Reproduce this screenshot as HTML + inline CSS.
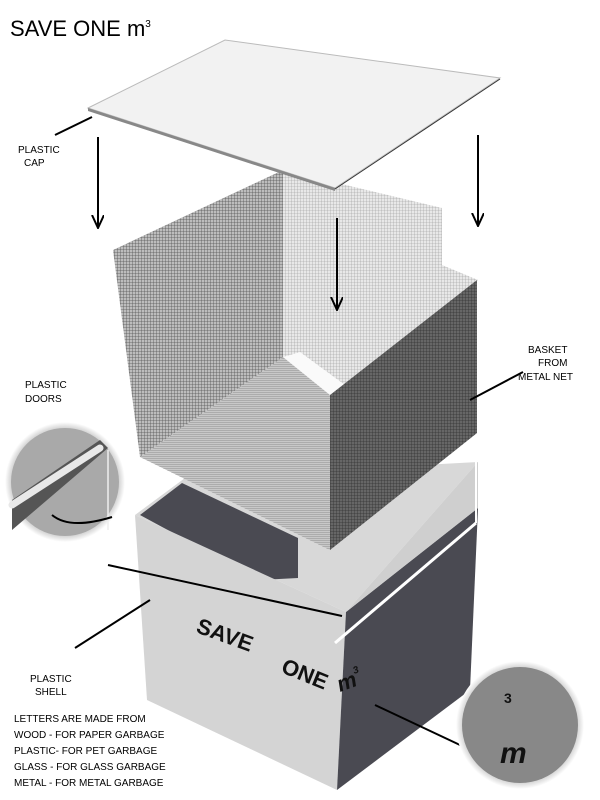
<!DOCTYPE html>
<html><head><style>body{margin:0;background:#fff}svg{display:block}text{font-family:"Liberation Sans",sans-serif}</style></head><body>
<svg width="600" height="800" viewBox="0 0 600 800" xmlns="http://www.w3.org/2000/svg">
<defs>
<pattern id="m1" width="3" height="3" patternUnits="userSpaceOnUse"><rect width="3" height="3" fill="#bdbdbd"/><path d="M0 0H3M0 0V3" stroke="#555" stroke-width="0.8"/></pattern>
<pattern id="m2" width="3" height="3" patternUnits="userSpaceOnUse"><rect width="3" height="3" fill="#e8e8e8"/><path d="M0 0H3M0 0V3" stroke="#999" stroke-width="0.6"/></pattern>
<pattern id="m3" width="3" height="3" patternUnits="userSpaceOnUse"><rect width="3" height="3" fill="#666"/><path d="M0 0H3M0 0V3" stroke="#333" stroke-width="0.8"/></pattern>
<pattern id="m4" width="3" height="2" patternUnits="userSpaceOnUse"><rect width="3" height="2" fill="#c8c8c8"/><path d="M0 0H3" stroke="#777" stroke-width="0.7"/></pattern>
<radialGradient id="lens" cx="0.5" cy="0.5" r="0.5"><stop offset="0.8" stop-color="#aaa"/><stop offset="1" stop-color="#fff"/></radialGradient>
<marker id="ah" markerWidth="14" markerHeight="14" refX="13" refY="6" orient="auto" markerUnits="userSpaceOnUse"><path d="M0 0L13 6L0 12" fill="none" stroke="#000" stroke-width="2"/></marker>
</defs>
<text x="10" y="36" font-size="22">SAVE ONE m<tspan font-size="10" dy="-9">3</tspan></text>
<text x="18" y="153" font-size="10">PLASTIC</text><text x="24" y="166" font-size="10">CAP</text>
<line x1="55" y1="135" x2="92" y2="117" stroke="#000" stroke-width="2"/>
<line x1="98" y1="137" x2="98" y2="228" stroke="#000" stroke-width="2" marker-end="url(#ah)"/>
<line x1="478" y1="135" x2="478" y2="226" stroke="#000" stroke-width="2" marker-end="url(#ah)"/>
<!-- box -->
<polygon points="135,515 185,478 478,462 346,612" fill="#d8d8d8"/>
<polygon points="140,515 182,483 298,538 298,578 260,580" fill="#4a4a52"/>
<polygon points="135,515 346,612 337,790 147,700" fill="#d4d4d4"/>
<polygon points="346,612 478,508 470,690 337,790" fill="#4a4a52"/>
<polygon points="346,612 478,462 478,508" fill="#cfcfcf"/>
<line x1="335" y1="643" x2="476" y2="523" stroke="#fff" stroke-width="3"/>
<line x1="476" y1="462" x2="476" y2="523" stroke="#fff" stroke-width="2"/>
<!-- mesh cube -->
<polygon points="283,170 442,208 442,265 478,280 330,395 283,357" fill="url(#m2)"/>
<polygon points="283,357 330,395 345,385 300,352" fill="#fafafa"/>
<polygon points="140,457 283,357 330,395 330,550" fill="url(#m4)"/>
<polygon points="113,250 283,170 283,357 140,457" fill="url(#m1)"/>
<polygon points="330,395 477,280 477,433 330,550" fill="url(#m3)"/>
<!-- cap -->
<polygon points="88,108 225,40 500,78 335,188" fill="#f2f2f2" stroke="#bbb" stroke-width="1"/>
<polygon points="88,108 335,188 335,191 88,111" fill="#888"/>
<line x1="335" y1="189" x2="500" y2="79" stroke="#333" stroke-width="1"/>
<line x1="337" y1="218" x2="337" y2="310" stroke="#000" stroke-width="2" marker-end="url(#ah)"/>
<text x="528" y="353" font-size="10">BASKET</text><text x="538" y="366" font-size="10">FROM</text><text x="518" y="380" font-size="10">METAL NET</text>
<line x1="470" y1="400" x2="523" y2="372" stroke="#000" stroke-width="2"/>
<!-- left lens -->
<text x="25" y="388" font-size="10">PLASTIC</text><text x="25" y="402" font-size="10">DOORS</text>
<circle cx="65" cy="482" r="60" fill="url(#lens)"/>
<circle cx="65" cy="482" r="54" fill="#a9a9a9"/>
<polygon points="12,500 100,440 108,448 12,530" fill="#555"/>
<line x1="12" y1="505" x2="100" y2="448" stroke="#e8e8e8" stroke-width="7" stroke-linecap="round"/>
<line x1="108" y1="450" x2="108" y2="530" stroke="#eee" stroke-width="1.5"/>
<path d="M52 515 Q70 530 112 517" fill="none" stroke="#000" stroke-width="2"/>
<line x1="108" y1="565" x2="342" y2="616" stroke="#000" stroke-width="2"/>
<!-- letters -->
<text x="195" y="632" font-size="22" font-weight="bold" fill="#111" transform="rotate(20 195 632)">SAVE</text>
<text x="280" y="672" font-size="22" font-weight="bold" fill="#111" transform="rotate(22 280 672)">ONE</text>
<text x="340" y="692" font-size="22" font-weight="bold" font-style="italic" fill="#111" transform="rotate(-20 340 692)">m<tspan font-size="10" dy="-12">3</tspan></text>
<line x1="375" y1="705" x2="460" y2="745" stroke="#000" stroke-width="2"/>
<circle cx="520" cy="725" r="64" fill="url(#lens)"/>
<circle cx="520" cy="725" r="58" fill="#888"/>
<text x="500" y="763" font-size="30" font-weight="bold" font-style="italic" fill="#111">m</text>
<text x="504" y="703" font-size="14" font-weight="bold" fill="#111">3</text>
<text x="30" y="682" font-size="10">PLASTIC</text><text x="35" y="695" font-size="10">SHELL</text>
<line x1="75" y1="648" x2="150" y2="600" stroke="#000" stroke-width="2"/>
<g font-size="10"><text x="14" y="722">LETTERS ARE MADE FROM</text><text x="14" y="738">WOOD - FOR PAPER GARBAGE</text><text x="14" y="754">PLASTIC- FOR PET GARBAGE</text><text x="14" y="770">GLASS - FOR GLASS GARBAGE</text><text x="14" y="786">METAL - FOR METAL GARBAGE</text></g>
</svg>
</body></html>
